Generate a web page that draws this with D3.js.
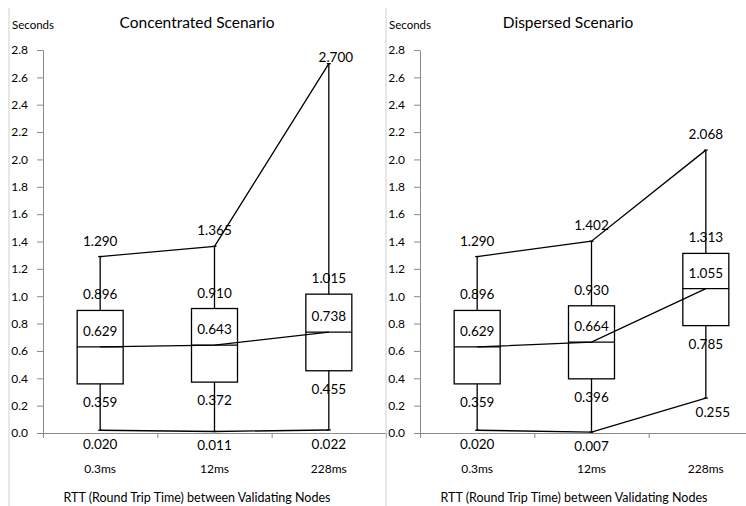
<!DOCTYPE html>
<html>
<head>
<meta charset="utf-8">
<script src="https://cdn.jsdelivr.net/npm/d3@7"></script>
<style>
  body { margin: 0; background: #fff; }
  svg { display: block; font-family: Lato, "Open Sans", sans-serif; }
</style>
</head>
<body>
<svg id="chart" width="746" height="506"></svg>
<script>
const categories = ["0.3ms", "12ms", "228ms"];
const yTicks = [0, 0.2, 0.4, 0.6, 0.8, 1.0, 1.2, 1.4, 1.6, 1.8, 2.0, 2.2, 2.4, 2.6, 2.8];

// Concentrated scenario
const concMin    = [0.020, 0.011, 0.022];
const concQ1     = [0.359, 0.372, 0.455];
const concMedian = [0.629, 0.643, 0.738];
const concQ3     = [0.896, 0.910, 1.015];
const concMax    = [1.290, 1.365, 2.700];

// Dispersed scenario
const dispMin    = [0.020, 0.007, 0.255];
const dispQ1     = [0.359, 0.396, 0.785];
const dispMedian = [0.629, 0.664, 1.055];
const dispQ3     = [0.896, 0.930, 1.313];
const dispMax    = [1.290, 1.402, 2.068];

const svg = d3.select("#chart");
const boxW = 46;
const axisGrey = "#8a8a8a";
const fmt = d3.format(".3f");

function drawPanel(opt) {
  const g = svg.append("g");
  const x = d3.scaleBand().domain(categories).range([opt.x0, opt.x0 + 343]);
  const y = d3.scaleLinear().domain([0, 2.8]).range([433, 50]);
  const cx = c => x(c) + x.bandwidth() / 2;

  // panel border line on the left
  g.append("line")
    .attr("x1", opt.border).attr("x2", opt.border)
    .attr("y1", 8).attr("y2", 506)
    .attr("stroke", "#cfcfcf").attr("stroke-width", 1);

  // y axis
  const ya = g.append("g")
    .attr("transform", `translate(${opt.x0},0)`)
    .call(d3.axisLeft(y).tickValues(yTicks).tickFormat(d3.format(".1f")).tickSize(6).tickSizeOuter(0).tickPadding(9));
  ya.select(".domain").attr("stroke", axisGrey);
  ya.selectAll(".tick line").attr("stroke", axisGrey);
  ya.selectAll(".tick text").attr("font-size", "12px").attr("fill", "#000")
    .attr("font-family", "Lato, sans-serif");

  // x axis with ticks on band edges
  const edges = [0, 1, 2, 3];
  const xe = d3.scaleLinear().domain([0, 3]).range(x.range());
  const xa = g.append("g")
    .attr("transform", `translate(0,${y(0)})`)
    .call(d3.axisBottom(xe).tickValues(edges).tickFormat("").tickSize(5).tickSizeOuter(0));
  xa.select(".domain").attr("stroke", axisGrey);
  xa.selectAll(".tick line").attr("stroke", axisGrey);

  // whiskers
  categories.forEach((c, i) => {
    g.append("line")
      .attr("x1", cx(c)).attr("x2", cx(c))
      .attr("y1", y(opt.min[i])).attr("y2", y(opt.max[i]))
      .attr("stroke", "#000").attr("stroke-width", 1.3);
    [opt.min[i], opt.max[i]].forEach(v => {
      g.append("line")
        .attr("x1", cx(c) - 2).attr("x2", cx(c) + 2)
        .attr("y1", y(v)).attr("y2", y(v))
        .attr("stroke", "#000").attr("stroke-width", 1.3);
    });
  });

  // boxes
  categories.forEach((c, i) => {
    g.append("rect")
      .attr("x", cx(c) - boxW / 2).attr("width", boxW)
      .attr("y", y(opt.q3[i])).attr("height", y(opt.q1[i]) - y(opt.q3[i]))
      .attr("fill", "#fff").attr("stroke", "#000").attr("stroke-width", 1.3);
    g.append("line")
      .attr("x1", cx(c) - boxW / 2).attr("x2", cx(c) + boxW / 2)
      .attr("y1", y(opt.median[i])).attr("y2", y(opt.median[i]))
      .attr("stroke", "#000").attr("stroke-width", 1.3);
  });

  // connecting lines for min, median and max
  const line = d3.line().x((d, i) => cx(categories[i])).y(d => y(d));
  [opt.min, opt.median, opt.max].forEach(arr => {
    g.append("path").attr("d", line(arr))
      .attr("fill", "none").attr("stroke", "#000").attr("stroke-width", 1.3);
  });

  // value labels
  const label = (c, v, dy, dx) => {
    let ly = y(v) + dy;
    let lx = cx(c) + (dx || 0);
    if (ly < 58) { ly = 57; lx += 7; }
    g.append("text")
      .attr("x", lx).attr("y", ly)
      .attr("text-anchor", "middle").attr("dominant-baseline", "central")
      .attr("font-size", "13.5px")
      .text(fmt(v));
  };
  categories.forEach((c, i) => {
    label(c, opt.max[i], -16);
    label(c, opt.q3[i], -16);
    label(c, opt.median[i], -16);
    label(c, opt.q1[i], 18);
    label(c, opt.min[i], 14, opt.min[i] > 0.1 ? 7 : 0);
    g.append("text")
      .attr("x", cx(c)).attr("y", 468)
      .attr("text-anchor", "middle").attr("dominant-baseline", "central")
      .attr("font-size", "12px")
      .text(c);
  });

  // titles
  g.append("text")
    .attr("x", opt.border + 3).attr("y", 24)
    .attr("dominant-baseline", "central")
    .attr("font-size", "11.5px")
    .text("Seconds");
  g.append("text")
    .attr("x", opt.titleX).attr("y", 22)
    .attr("text-anchor", "middle").attr("dominant-baseline", "central")
    .attr("font-size", "15.5px")
    .text(opt.title);
  g.append("text")
    .attr("x", opt.x0 + 154).attr("y", 497)
    .attr("text-anchor", "middle").attr("dominant-baseline", "central")
    .attr("font-size", "12.5px")
    .text("RTT (Round Trip Time) between Validating Nodes");
}

drawPanel({
  x0: 43, border: 9, titleX: 197, title: "Concentrated Scenario",
  min: concMin, q1: concQ1, median: concMedian, q3: concQ3, max: concMax
});
drawPanel({
  x0: 420, border: 386, titleX: 568, title: "Dispersed Scenario",
  min: dispMin, q1: dispQ1, median: dispMedian, q3: dispQ3, max: dispMax
});
</script>
</body>
</html>
